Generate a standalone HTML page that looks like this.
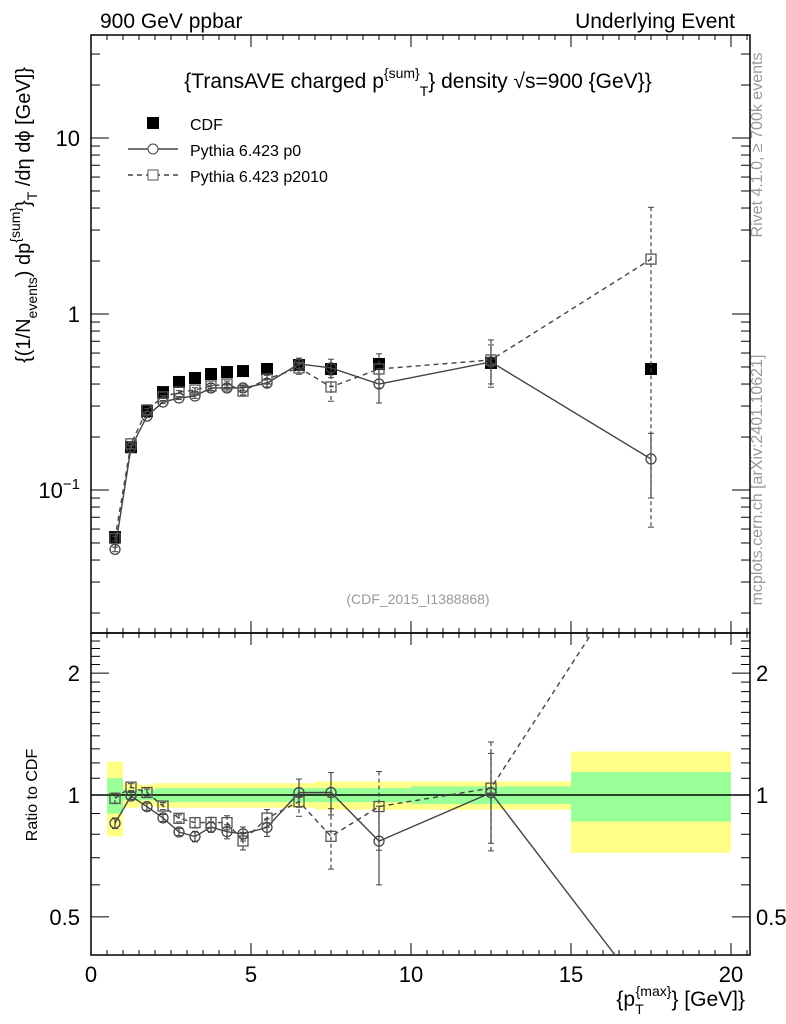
<!DOCTYPE html>
<html><head><meta charset="utf-8"><style>
html,body{margin:0;background:#fff;width:786px;height:1024px;overflow:hidden;}
svg{display:block;overflow:hidden;}
svg text{font-family:"Liberation Sans",sans-serif;}
</style></head><body>
<svg id="c" width="786" height="1024" xmlns="http://www.w3.org/2000/svg"></svg>
<script>
const xCenters=[0.75,1.25,1.75,2.25,2.75,3.25,3.75,4.25,4.75,5.5,6.5,7.5,9,12.5,17.5];
const binLo=[0.5,1,1.5,2,2.5,3,3.5,4,4.5,5,6,7,8,10,15];
const binHi=[1,1.5,2,2.5,3,3.5,4,4.5,5,6,7,8,10,15,20];
const cdf=[0.054,0.175,0.281,0.360,0.411,0.433,0.456,0.468,0.474,0.487,0.513,0.487,0.520,0.527,0.487];
const cdfStat=[0.10,0.03,0.03,0.04,0.04,0.04,0.04,0.04,0.04,0.04,0.04,0.04,0.04,0.05,0.14];
const cdfTot=[0.21,0.07,0.06,0.07,0.07,0.07,0.07,0.07,0.07,0.07,0.07,0.08,0.08,0.08,0.28];
const p0=[0.046,0.174,0.263,0.316,0.333,0.342,0.380,0.380,0.380,0.405,0.520,0.494,0.400,0.534,0.150];
const p0RelErr=[0.03,0.02,0.02,0.02,0.02,0.03,0.03,0.04,0.04,0.05,0.08,0.12,0.22,0.25,0.40];
const p2010=[0.053,0.183,0.285,0.338,0.360,0.370,0.390,0.400,0.365,0.427,0.494,0.385,0.487,0.548,2.05];
const p2010RelErr=[0.03,0.02,0.02,0.02,0.02,0.03,0.03,0.04,0.05,0.05,0.08,0.17,0.22,0.30,0.97];
const xTicks=[0,5,10,15,20];

const S=document.getElementById('c');const NS='http://www.w3.org/2000/svg';
function el(t,a,p){const e=document.createElementNS(NS,t);for(const k in a)e.setAttribute(k,a[k]);(p||S).appendChild(e);return e;}
const L=91,R=750,T1=35,B1=633,T2=633,B2=955;
const X=v=>L+v*32;
const Y1=v=>314-176*Math.log10(v);
const Y2=v=>795-405*Math.log10(v);
const clip=el('clipPath',{id:'cl2'});el('rect',{x:L,y:T2,width:R-L,height:B2-T2},clip);
const clip1=el('clipPath',{id:'cl1'});el('rect',{x:L,y:T1,width:R-L,height:B1-T1},clip1);

const gb=el('g',{'clip-path':'url(#cl2)'});

binLo.forEach((lo,i)=>{
 const r=el('rect',{x:X(lo),width:X(binHi[i])-X(lo),y:Y2(1+cdfTot[i]),height:Y2(1-cdfTot[i])-Y2(1+cdfTot[i]),fill:'#ffff88'},gb);
 
 const g=el('rect',{x:X(lo),width:X(binHi[i])-X(lo),y:Y2(1+cdfStat[i]),height:Y2(1-cdfStat[i])-Y2(1+cdfStat[i]),fill:'#99ff99'},gb);
 
});
el('line',{x1:L,x2:R,y1:Y2(1),y2:Y2(1),stroke:'#000','stroke-width':1.5});

el('rect',{x:L,y:T1,width:R-L,height:B1-T1,fill:'none',stroke:'#000','stroke-width':1.5});
el('rect',{x:L,y:T2,width:R-L,height:B2-T2,fill:'none',stroke:'#000','stroke-width':1.5});

for(let v=0;v<=20.5;v+=0.5){const maj=v%5===0;const len=maj?12:5;
 [[B1,-1],[T1,1],[B2,-1],[T2,1]].forEach(([y,d])=>el('line',{x1:X(v),x2:X(v),y1:y,y2:y+d*len,stroke:'#000'}));}
xTicks.forEach(v=>{const t=el('text',{x:X(v),y:982,'font-size':22,'text-anchor':'middle'});t.textContent=v;
 });

for(let d=-2;d<=1;d++)for(let m=1;m<10;m++){const v=m*Math.pow(10,d);const y=Y1(v);if(y<T1||y>B1)continue;
 const len=m===1?18:9;el('line',{x1:L,x2:L+len,y1:y,y2:y,stroke:'#000'});el('line',{x1:R,x2:R-len,y1:y,y2:y,stroke:'#000'});}
[[10,'10'],[1,'1']].forEach(([v,s])=>{const t=el('text',{x:80,y:Y1(v)+8,'font-size':22,'text-anchor':'end'});t.textContent=s;
 });
{const t=el('text',{x:80,y:Y1(0.1)+8,'font-size':22,'text-anchor':'end'});t.innerHTML='10<tspan dy="-9" font-size="15">−1</tspan>';
 }

for(let v=0.4;v<=2.5;v+=0.1){const y=Y2(v);if(y<T2||y>B2)continue;const maj=Math.abs(v-0.5)<1e-6||Math.abs(v-1)<1e-6||Math.abs(v-2)<1e-6;
 const len=maj?18:9;el('line',{x1:L,x2:L+len,y1:y,y2:y,stroke:'#000'});el('line',{x1:R,x2:R-len,y1:y,y2:y,stroke:'#000'});}
[[2,'2'],[1,'1'],[0.5,'0.5']].forEach(([v,s])=>{[[80,'end'],[756,'start']].forEach(([x,a])=>{const t=el('text',{x:x,y:Y2(v)+8,'font-size':22,'text-anchor':a});t.textContent=s;
 });});

function errbar(g,x,y1,y2,dash,col){el('line',{x1:x,x2:x,y1:y1,y2:y2,stroke:col,'stroke-width':1.2,'stroke-dasharray':dash?'4,3':''},g);
 el('line',{x1:x-3,x2:x+3,y1:y1,y2:y1,stroke:col},g);el('line',{x1:x-3,x2:x+3,y1:y2,y2:y2,stroke:col},g);}
function series(Y,vals,rel,ref,kind,cp,lo,hi){
 const g=el('g',{'clip-path':cp});
 
 const v=vals.map((a,i)=>ref?a/ref[i]:a);
 el('polyline',{points:xCenters.map((x,i)=>X(x)+','+Y(v[i])).join(' '),fill:'none',stroke:'#444','stroke-width':1.4,'stroke-dasharray':kind==='s'?'5,4':''},g);
 xCenters.forEach((x,i)=>{if(v[i]<lo||v[i]>hi)return;
  errbar(g,X(x),Y(v[i]*(1+rel[i])),Y(Math.max(v[i]*(1-rel[i]),1e-3)),kind==='s','#444');
  if(kind==='c'){const m=el('circle',{cx:X(x),cy:Y(v[i]),r:5,fill:'none',stroke:'#444','stroke-width':1.3},g);}
  else{const m=el('rect',{x:X(x)-5,y:Y(v[i])-5,width:10,height:10,fill:'none',stroke:'#555','stroke-width':1.3},g);}});
}
const gc=el('g',{'clip-path':'url(#cl1)'});

xCenters.forEach((x,i)=>{
 const m=el('rect',{x:X(x)-6,y:Y1(cdf[i])-6,width:12,height:12,fill:'#000'},gc);});
series(Y1,p0,p0RelErr,null,'c','url(#cl1)',0,1e9);
series(Y1,p2010,p2010RelErr,null,'s','url(#cl1)',0,1e9);
series(Y2,p0,p0RelErr,cdf,'c','url(#cl2)',0.4,2.5);
series(Y2,p2010,p2010RelErr,cdf,'s','url(#cl2)',0.4,2.5);

const lg=el('g',{});
el('rect',{x:147,y:117,width:12,height:12,fill:'#000'},lg);
el('line',{x1:128,x2:178,y1:149,y2:149,stroke:'#444','stroke-width':1.4},lg);el('circle',{cx:153,cy:149,r:5,fill:'#fff',stroke:'#444'},lg);
el('line',{x1:128,x2:178,y1:175,y2:175,stroke:'#444','stroke-width':1.4,'stroke-dasharray':'5,4'},lg);el('rect',{x:148,y:170,width:10,height:10,fill:'#fff',stroke:'#555'},lg);
[['CDF',130],['Pythia 6.423 p0',156],['Pythia 6.423 p2010',182]].forEach(([s,y])=>{const t=el('text',{x:190,y:y,'font-size':16},lg);t.textContent=s;});

function txt(x,y,s,attrs,name){const t=el('text',Object.assign({x:x,y:y},attrs));t.innerHTML=s;return t;}
txt(100,28,'900 GeV ppbar',{'font-size':21},'energy-label');
txt(735,28,'Underlying Event',{'font-size':21,'text-anchor':'end'},'process-label');
txt(418,88,'{TransAVE charged p<tspan dy="-10" font-size="14">{sum}</tspan><tspan dy="18" font-size="14">T</tspan><tspan dy="-8">} density √s=900 {GeV}}</tspan>',{'font-size':21,'text-anchor':'middle'},'plot-title');
txt(418,604,'(CDF_2015_I1388868)',{'font-size':14,'text-anchor':'middle',fill:'#999'},'analysis-id');
txt(745,1006,'{p<tspan dy="8" font-size="14">T</tspan><tspan dy="-18" dx="-8" font-size="14">{max}</tspan><tspan dy="10">} [GeV]}</tspan>',{'font-size':21,'text-anchor':'end'},'x-axis-title');
txt(0,0,'Ratio to CDF',{'font-size':16,'text-anchor':'middle',transform:'translate(37,795) rotate(-90)'},'ratio-y-axis-title');
txt(0,0,'{(1/N<tspan dy="7" font-size="14">events</tspan><tspan dy="-7">) dp</tspan><tspan dy="-10" font-size="14">{sum}</tspan><tspan dy="10">}</tspan><tspan dy="7" font-size="14">T</tspan><tspan dy="-7"> /dη  dϕ [GeV]}</tspan>',{'font-size':20,'text-anchor':'middle',transform:'translate(30,215) rotate(-90)'},'y-axis-title');
txt(0,0,'Rivet 4.1.0, ≥ 700k events',{'font-size':16,'fill':'#999','text-anchor':'middle',transform:'translate(762,145) rotate(-90)'},'rivet-label');
txt(0,0,'mcplots.cern.ch [arXiv:2401.10621]',{'font-size':16,'fill':'#999','text-anchor':'middle',transform:'translate(762,480) rotate(-90)'},'mcplots-label');
</script>
</body></html>
